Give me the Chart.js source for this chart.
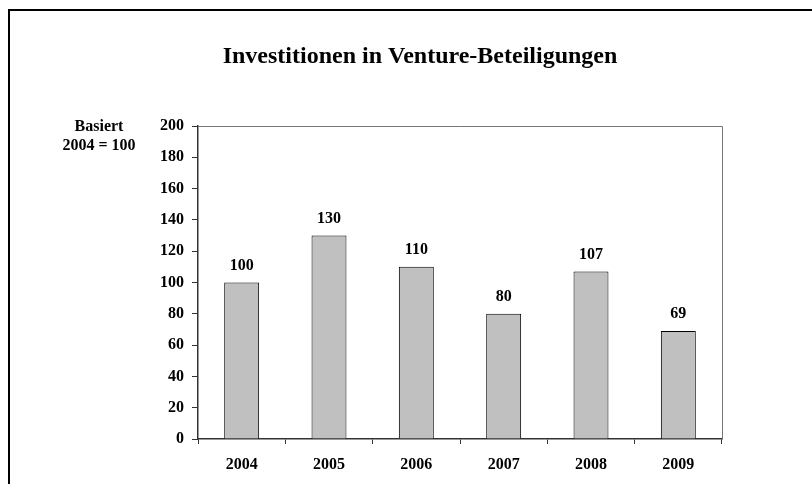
<!DOCTYPE html>
<html>
<head>
<meta charset="utf-8">
<script src="https://cdn.jsdelivr.net/npm/chart.js@4"></script>
<style>
  html, body { margin: 0; padding: 0; background: #fff; }
  #wrap { width: 812px; height: 484px; }
</style>
</head>
<body>
<div id="wrap"><canvas id="chart" width="812" height="484"></canvas></div>
<script>
const years = ["2004", "2005", "2006", "2007", "2008", "2009"];
const indexValues = [100, 130, 110, 80, 107, 69];
const yTicks = [0, 20, 40, 60, 80, 100, 120, 140, 160, 180, 200];

const chartTitle = "Investitionen in Venture-Beteiligungen";
const axisNote = ["Basiert", "2004 = 100"];

const serif = "'Liberation Serif', 'DejaVu Serif', serif";

// frame, title, plot border and bar labels
const decorations = {
    id: "decorations",
    afterDraw(chart) {
        const ctx = chart.ctx;
        const area = chart.chartArea;
        ctx.save();

        ctx.strokeStyle = "#000";
        ctx.lineWidth = 2;
        ctx.beginPath();
        ctx.moveTo(9, 484);
        ctx.lineTo(9, 10);
        ctx.lineTo(812, 10);
        ctx.stroke();

        ctx.strokeStyle = "#777";
        ctx.lineWidth = 1;
        ctx.beginPath();
        ctx.moveTo(area.left, area.top + 0.5);
        ctx.lineTo(area.right + 0.5, area.top + 0.5);
        ctx.lineTo(area.right + 0.5, area.bottom);
        ctx.stroke();

        ctx.fillStyle = "#000";
        ctx.textAlign = "center";
        ctx.textBaseline = "alphabetic";
        ctx.font = "bold 24px " + serif;
        ctx.fillText(chartTitle, 420, 63);

        ctx.font = "bold 16px " + serif;
        ctx.fillText(axisNote[0], 99, 131);
        ctx.fillText(axisNote[1], 99, 150);

        ctx.textBaseline = "middle";
        const meta = chart.getDatasetMeta(0);
        meta.data.forEach((bar, i) => {
            ctx.fillText(String(indexValues[i]), bar.x, bar.y - 17);
        });

        ctx.restore();
    }
};

new Chart(document.getElementById("chart"), {
    type: "bar",
    data: {
        labels: years,
        datasets: [{
            data: indexValues,
            backgroundColor: "#c0c0c0",
            borderColor: "#000",
            borderWidth: 1,
            categoryPercentage: 1,
            barPercentage: 0.4
        }]
    },
    options: {
        responsive: false,
        animation: false,
        layout: { padding: { top: 126, right: 90, left: 0, bottom: 0 } },
        plugins: {
            legend: { display: false },
            tooltip: { enabled: false }
        },
        scales: {
            x: {
                offset: true,
                grid: {
                    offset: true,
                    drawOnChartArea: false,
                    drawTicks: true,
                    tickLength: 5,
                    color: "#333"
                },
                border: { display: true, color: "#333", width: 1.5 },
                ticks: {
                    color: "#000",
                    padding: 11,
                    font: { family: serif, size: 16, weight: "bold" }
                },
                afterFit(scale) { scale.height = 45; }
            },
            y: {
                min: 0,
                max: 200,
                afterBuildTicks(scale) {
                    scale.ticks = yTicks.map(v => ({ value: v }));
                },
                grid: {
                    drawOnChartArea: false,
                    drawTicks: true,
                    tickLength: 6,
                    color: "#333"
                },
                border: { display: true, color: "#333", width: 1.5 },
                ticks: {
                    color: "#000",
                    padding: 8,
                    font: { family: serif, size: 16, weight: "bold" }
                },
                afterFit(scale) { scale.width = 198; }
            }
        }
    },
    plugins: [decorations]
});
</script>
</body>
</html>
